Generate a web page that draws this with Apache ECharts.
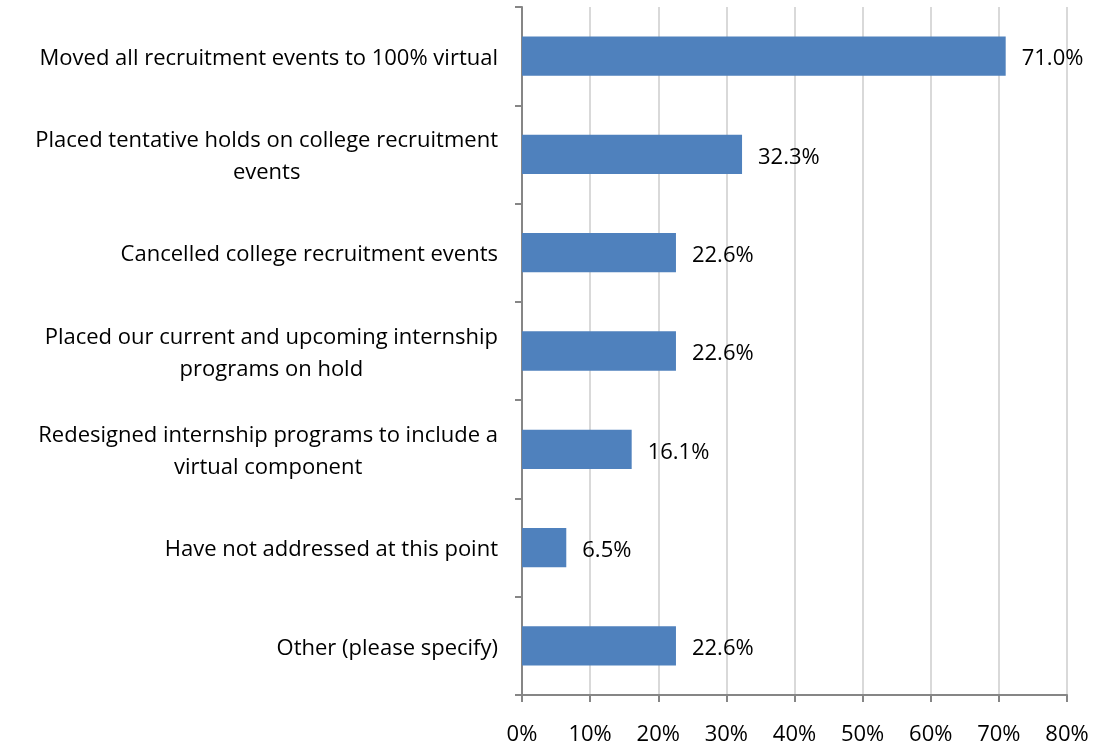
<!DOCTYPE html>
<html><head><meta charset="utf-8">
<script src="https://cdn.jsdelivr.net/npm/echarts@6/dist/echarts.min.js"></script>
<style>html,body{margin:0;padding:0;background:#fff}#c{width:1097px;height:748px}</style>
</head><body><div id="c"></div>
<script>
const categories = [
  "Moved all recruitment events to 100% virtual",
  "Placed tentative holds on college recruitment\nevents",
  "Cancelled college recruitment events",
  "Placed our current and upcoming internship\nprograms on hold",
  "Redesigned internship programs to include a\nvirtual component",
  "Have not addressed at this point",
  "Other (please specify)"
];
const values = [71.0, 32.3, 22.6, 22.6, 16.1, 6.5, 22.6];
const xTicks = [0, 10, 20, 30, 40, 50, 60, 70, 80];

const FONT = "Open Sans";
const chart = echarts.init(document.getElementById('c'));
chart.setOption({
  animation: false,
  grid: {left: 522, right: 30, top: 7, bottom: 53, containLabel: false},
  xAxis: {
    type: 'value', min: xTicks[0], max: xTicks[xTicks.length-1], interval: 10,
    axisLine: {show: true, lineStyle: {color: '#868686', width: 2}},
    axisTick: {show: true, length: 7, lineStyle: {color: '#868686', width: 2}},
    splitLine: {show: true, lineStyle: {color: '#d9d9d9', width: 2}},
    axisLabel: {formatter: v => v + '%', color: '#000', fontFamily: FONT, fontSize: 22, margin: 29}
  },
  yAxis: {
    type: 'category', data: categories, inverse: true,
    axisLine: {show: true, lineStyle: {color: '#868686', width: 2}},
    axisTick: {show: true, length: 7, lineStyle: {color: '#868686', width: 2}},
    axisLabel: {
      color: '#000', fontFamily: FONT, fontSize: 22, margin: 24, align: 'right', lineHeight: 32,
      padding: [5, 0, 0, 0],
      formatter: v => v.split('\n').map(s => '{c|' + s + '}').join('\n'),
      rich: {c: {align: 'center', color: '#000', fontFamily: FONT, fontSize: 22, lineHeight: 32}}
    }
  },
  series: [{
    type: 'bar', data: values, barCategoryGap: '60%',
    itemStyle: {color: '#4f81bd'},
    label: {show: true, position: 'right', distance: 16, offset: [0, 3], color: '#000', fontFamily: FONT, fontSize: 22,
      formatter: p => p.value.toFixed(1) + '%'}
  }]
});
</script></body></html>
